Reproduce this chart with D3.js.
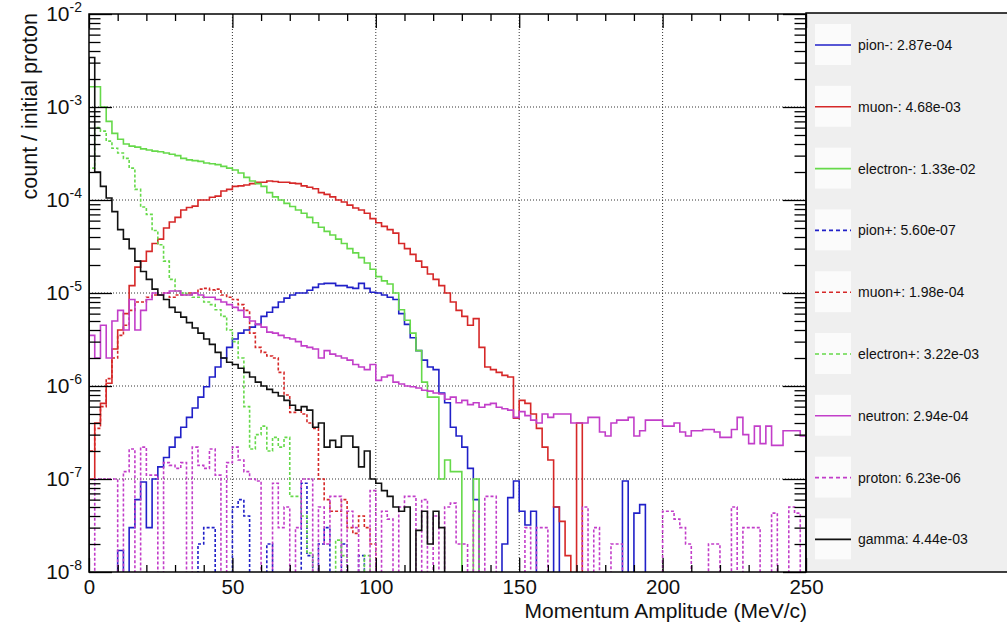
<!DOCTYPE html>
<html><head><meta charset="utf-8">
<script src="https://cdn.jsdelivr.net/npm/d3@7/dist/d3.min.js"></script>
<style>
html,body{margin:0;padding:0;background:#fff;}
svg{display:block;font-family:"Liberation Sans",Arial,Helvetica,sans-serif;}
</style></head><body>
<svg id="chart" width="1007" height="623"></svg>
<script>
// ---------------- data ----------------
const binWidth = 2; // MeV/c per bin, 125 bins from 0 to 250
const xTicks = [0, 50, 100, 150, 200, 250];
const xMinorTicks = [10,20,30,40,60,70,80,90,110,120,130,140,160,170,180,190,210,220,230,240];
const yDecades = [1e-8, 1e-7, 1e-6, 1e-5, 1e-4, 1e-3, 1e-2];
const yMinorMantissas = [2,3,4,5,6,7,8,9];
const legendLabels = ["pion-: 2.87e-04","muon-: 4.68e-03","electron-: 1.33e-02","pion+: 5.60e-07","muon+: 1.98e-04","electron+: 3.22e-03","neutron: 2.94e-04","proton: 6.23e-06","gamma: 4.44e-03"];

const pionMinus = [
0,0,0,0,0,1.7e-8,0,3e-8,6e-8,9.3e-8,
3e-8,1e-7,1.35e-7,1.7e-7,2.2e-7,2.8e-7,3.6e-7,4.6e-7,5.8e-7,7.6e-7,
9.8e-7,1.25e-6,1.6e-6,2.0e-6,2.6e-6,3.2e-6,3.7e-6,4.0e-6,4.3e-6,4.6e-6,
5.6e-6,6.2e-6,7.0e-6,8.0e-6,8.8e-6,9.5e-6,1.0e-5,1.0e-5,1.07e-5,1.15e-5,
1.25e-5,1.27e-5,1.27e-5,1.2e-5,1.2e-5,1.15e-5,1.12e-5,1.27e-5,1.12e-5,1.02e-5,
1.0e-5,9.5e-6,9.0e-6,8.5e-6,6.0e-6,4.6e-6,3.3e-6,2.4e-6,1.9e-6,1.6e-6,
1.5e-6,8.4e-7,6.6e-7,3.6e-7,2.9e-7,2.2e-7,1.3e-7,6e-8,0,0,
0,0,2e-8,6.3e-8,9.5e-8,4.5e-8,3.2e-8,4.5e-8,0,0,
0,5e-8,0,0,0,0,0,0,0,0,
0,0,0,9.5e-8,0,4.3e-8,5.3e-8,0,0,0,
0,0,0,0,0,0,0,0,0,0,
0,0,0,0,0,0,0,0,0,0,
0,0,0,0,0];

const muonMinus = [
1e-7,4e-7,6.5e-7,1.07e-6,2.5e-6,4e-6,6e-6,1.2e-5,1.9e-5,2.2e-5,
2.8e-5,3.4e-5,3.8e-5,5.0e-5,5.8e-5,6.5e-5,7.8e-5,8.3e-5,8.6e-5,1.0e-4,
1.0e-4,1.07e-4,1.1e-4,1.25e-4,1.3e-4,1.4e-4,1.42e-4,1.45e-4,1.5e-4,1.55e-4,
1.55e-4,1.6e-4,1.58e-4,1.55e-4,1.55e-4,1.52e-4,1.5e-4,1.42e-4,1.37e-4,1.32e-4,
1.2e-4,1.15e-4,1.08e-4,1.0e-4,9.5e-5,8.8e-5,8.2e-5,7.8e-5,7.2e-5,6.3e-5,
5.7e-5,5.2e-5,4.8e-5,4.4e-5,3.4e-5,3.0e-5,2.6e-5,2.2e-5,1.9e-5,1.6e-5,
1.4e-5,1.2e-5,1.0e-5,8e-6,6.5e-6,5.6e-6,4.5e-6,5.3e-6,2.6e-6,1.6e-6,
1.5e-6,1.4e-6,1.3e-6,1.25e-6,4.5e-7,7e-7,6.5e-7,5e-7,3.5e-7,2.2e-7,
1.6e-7,5e-8,3.5e-8,1.5e-8,0,4e-7,0,0,0,0,
0,0,0,0,0,0,0,0,0,0,
0,0,0,0,0,0,0,0,0,0,
0,0,0,0,0,0,0,0,0,0,
0,0,0,0,0];

const electronMinus = [
1.65e-3,1.65e-3,1.0e-3,7e-4,5.2e-4,4.5e-4,4.0e-4,3.8e-4,3.7e-4,3.55e-4,
3.45e-4,3.35e-4,3.3e-4,3.2e-4,3.1e-4,3.0e-4,2.8e-4,2.7e-4,2.65e-4,2.6e-4,
2.5e-4,2.45e-4,2.4e-4,2.3e-4,2.2e-4,2.1e-4,1.95e-4,1.75e-4,1.6e-4,1.5e-4,
1.4e-4,1.2e-4,1.08e-4,1.0e-4,9.2e-5,8.5e-5,7.8e-5,7.2e-5,6.5e-5,5.7e-5,
5.1e-5,4.6e-5,4.2e-5,3.8e-5,3.4e-5,3.0e-5,2.7e-5,2.4e-5,2.1e-5,1.8e-5,
1.5e-5,1.35e-5,1.25e-5,1.0e-5,6.6e-6,5.1e-6,3.7e-6,2.4e-6,1.1e-6,7.6e-7,
7.6e-7,1.0e-7,1.6e-7,1.2e-7,1.2e-7,0,0,1.0e-7,0,0,
0,0,0,0,0,0,0,0,0,0,
0,0,0,0,0,0,0,0,0,0,
0,0,0,0,0,0,0,0,0,0,
0,0,0,0,0,0,0,0,0,0,
0,0,0,0,0,0,0,0,0,0,
0,0,0,0,0];

const pionPlus = [
0,0,0,0,0,0,0,0,0,0,
0,0,0,0,0,0,0,0,0,2e-8,
3e-8,3e-8,0,0,0,5e-8,6e-8,4e-8,0,0,
0,2e-8,0,0,0,0,0,9e-8,1.5e-8,0,
2e-8,3e-8,0,0,2e-8,0,0,1.5e-8,0,0,
0,0,0,0,0,0,0,0,0,0,
0,0,0,0,0,0,0,0,0,0,
0,0,0,0,0,0,0,0,0,0,
0,0,0,0,0,0,0,0,0,0,
0,0,0,0,0,0,0,0,0,0,
0,0,0,0,0,0,0,0,0,0,
0,0,0,0,0,0,0,0,0,0,
0,0,0,0,0];

const muonPlus = [
2e-7,3.5e-7,6e-7,1.2e-6,2e-6,3.5e-6,4.5e-6,6.5e-6,8e-6,8e-6,
9e-6,9.5e-6,9.5e-6,1.0e-5,9e-6,9.5e-6,9.5e-6,1.0e-5,1.0e-5,1.1e-5,
1.12e-5,1.08e-5,1.1e-5,9.5e-6,9e-6,8.5e-6,7.5e-6,6.5e-6,3.7e-6,2.6e-6,
2.3e-6,2.1e-6,2.0e-6,1.4e-6,8e-7,5.2e-7,5.5e-7,5e-7,4e-7,3.5e-7,
1.0e-7,6e-8,4.5e-8,4.5e-8,6e-8,3e-8,2.6e-8,4e-8,3e-8,2e-8,
0,0,0,0,0,0,0,0,0,0,
0,0,0,0,0,0,0,0,0,0,
0,0,0,0,0,0,0,0,0,0,
0,0,0,0,0,0,0,0,0,0,
0,0,0,0,0,0,0,0,0,0,
0,0,0,0,0,0,0,0,0,0,
0,0,0,0,0,0,0,0,0,0,
0,0,0,0,0];

const electronPlus = [
2.2e-4,6e-4,5.5e-4,4.3e-4,3.6e-4,3.2e-4,2.8e-4,2.2e-4,1.3e-4,8.4e-5,
7.0e-5,4.7e-5,3.3e-5,2.2e-5,1.4e-5,1.05e-5,1.0e-5,9.5e-6,9e-6,9e-6,
8e-6,7.5e-6,6.6e-6,5.6e-6,4e-6,3e-6,2e-6,6e-7,2.1e-7,3.0e-7,
3.7e-7,2.0e-7,2.8e-7,2.2e-7,2.8e-7,6.5e-8,6.5e-8,4e-8,1.6e-8,0,
0,0,0,2.2e-8,1.5e-8,0,0,0,1.5e-8,0,
0,0,0,0,0,0,0,0,0,0,
0,0,0,0,0,0,0,0,0,0,
0,0,0,0,0,0,0,0,0,0,
0,0,0,0,0,0,0,0,0,0,
0,0,0,0,0,0,0,0,0,0,
0,0,0,0,0,0,0,0,0,0,
0,0,0,0,0,0,0,0,0,0,
0,0,0,0,0];

const neutron = [
3.5e-6,2e-6,4.5e-6,2e-6,5e-6,6.5e-6,4e-6,8.5e-6,4e-6,6.5e-6,
8.5e-6,1.0e-5,9.5e-6,1.0e-5,1.05e-5,1.05e-5,9.5e-6,9.5e-6,1.0e-5,9.5e-6,
9e-6,9e-6,8.5e-6,8e-6,7.5e-6,7e-6,6.5e-6,5.5e-6,5e-6,4.6e-6,
4.3e-6,3.8e-6,3.7e-6,3.5e-6,3.3e-6,3.2e-6,3.0e-6,2.7e-6,2.6e-6,2.5e-6,
2.0e-6,2.4e-6,2.2e-6,2.1e-6,2.0e-6,1.9e-6,1.7e-6,1.6e-6,1.5e-6,1.7e-6,
1.15e-6,1.25e-6,1.3e-6,1.1e-6,1.05e-6,1.0e-6,9.8e-7,9.5e-7,9e-7,8.8e-7,
8.4e-7,8.2e-7,7.2e-7,7.6e-7,6.6e-7,7e-7,6.3e-7,6.6e-7,5.9e-7,6.3e-7,
6.5e-7,5.9e-7,5.7e-7,5.5e-7,4.6e-7,5.3e-7,4.8e-7,4.3e-7,4.0e-7,5.0e-7,
4.6e-7,5.0e-7,5.0e-7,5.0e-7,4.0e-7,4.0e-7,4.0e-7,4.6e-7,4.6e-7,3.2e-7,
2.9e-7,4.0e-7,4.3e-7,4.3e-7,4.6e-7,2.9e-7,3.3e-7,4.3e-7,4.3e-7,4.3e-7,
3.7e-7,3.7e-7,4.0e-7,3.2e-7,2.9e-7,3.3e-7,3.3e-7,3.4e-7,3.4e-7,3.2e-7,
2.8e-7,2.8e-7,3.4e-7,4.6e-7,3.0e-7,2.4e-7,3.7e-7,2.4e-7,3.7e-7,2.3e-7,
2.3e-7,3.3e-7,3.3e-7,3.3e-7,2.9e-7];

const proton = [
0,1e-7,1e-7,1e-7,1e-7,0,1.2e-7,2.1e-7,0,2.2e-7,
1.1e-7,1.1e-7,0,1.5e-7,1.4e-7,1.3e-7,1.5e-7,0,2.2e-7,1.4e-7,
1.3e-7,2.1e-7,1.1e-7,0,1.5e-7,2.2e-7,1.6e-7,1.2e-7,1e-7,9.5e-8,
0,0,9e-8,3e-8,5e-8,0,3e-8,1e-7,1e-7,0,
5e-8,2e-8,6.5e-8,6.5e-8,0,4.5e-8,3e-8,0,0,7.5e-8,
0,4.5e-8,3.7e-8,0,5e-8,6.5e-8,6.5e-8,0,6e-8,0,
4e-8,0,5e-8,5.5e-8,2e-8,2e-8,0,4.5e-8,0,6.5e-8,
6.5e-8,0,0,0,0,0,3e-8,0,3e-8,3e-8,
0,0,0,0,0,0,5e-8,0,3e-8,0,
0,2e-8,2e-8,0,0,0,0,0,0,0,
4.5e-8,4.5e-8,3.7e-8,3e-8,2e-8,0,0,0,2e-8,2e-8,
0,0,5e-8,0,3e-8,3e-8,3e-8,0,0,4.3e-8,
0,0,5e-8,4.3e-8,0];

const gamma = [
3.4e-3,2e-4,1.4e-4,1.05e-4,7.5e-5,4.8e-5,3.8e-5,3e-5,2.2e-5,1.7e-5,
1.4e-5,1.1e-5,9.5e-6,8.5e-6,7e-6,6.2e-6,5.5e-6,4.8e-6,4.2e-6,3.7e-6,
3.2e-6,2.8e-6,2.3e-6,2.0e-6,1.8e-6,1.7e-6,1.55e-6,1.4e-6,1.25e-6,1.1e-6,
1.0e-6,9.2e-7,8.5e-7,7.8e-7,7e-7,6.2e-7,5.5e-7,6e-7,5.5e-7,3.6e-7,
4e-7,2.2e-7,2.6e-7,2.2e-7,2.9e-7,2.9e-7,2.2e-7,1.35e-7,2e-7,1e-7,
9e-8,7.5e-8,6.5e-8,5e-8,4.5e-8,5e-8,0,2.8e-8,4.5e-8,2e-8,
4.5e-8,3e-8,0,0,0,0,0,0,0,0,
0,0,0,0,0,0,0,0,0,0,
0,0,0,0,0,0,0,0,0,0,
0,0,0,0,0,0,0,0,0,0,
0,0,0,0,0,0,0,0,0,0,
0,0,0,0,0,0,0,0,0,0,
0,0,0,0,0];

// ---------------- styling ----------------
const seriesList = [
  {vals: pionMinus,     color: "#2020c8", dash: null},
  {vals: muonMinus,     color: "#d62828", dash: null},
  {vals: electronMinus, color: "#66d94a", dash: null},
  {vals: pionPlus,      color: "#2020c8", dash: "3,2"},
  {vals: muonPlus,      color: "#d62828", dash: "3,2"},
  {vals: electronPlus,  color: "#66d94a", dash: "3,2"},
  {vals: neutron,       color: "#c23ec9", dash: null},
  {vals: proton,        color: "#c23ec9", dash: "3,2"},
  {vals: gamma,         color: "#111111", dash: null}
];

const W = 1007, H = 623, L = 89, R = 806, T = 14, B = 572;
const svg = d3.select("#chart");
svg.append("rect").attr("width", W).attr("height", H).attr("fill", "#fff");

const x = d3.scaleLinear().domain([0, 250]).range([L, R]);
const y = d3.scaleLog().domain([1e-8, 1e-2]).range([B, T]);

const yMinorTicks = [];
yDecades.slice(0, -1).forEach(d => yMinorMantissas.forEach(m => yMinorTicks.push(m * d)));

// grid
const grid = svg.append("g").attr("stroke", "#333").attr("stroke-width", 1).attr("stroke-dasharray", "1,2");
xTicks.slice(1, -1).forEach(t => grid.append("line").attr("x1", x(t)).attr("x2", x(t)).attr("y1", T).attr("y2", B));
yDecades.slice(1, -1).forEach(t => grid.append("line").attr("x1", L).attr("x2", R).attr("y1", y(t)).attr("y2", y(t)));

// clip
svg.append("clipPath").attr("id", "plotclip").append("rect").attr("x", L).attr("y", T).attr("width", R - L).attr("height", B - T);

function yv(v) { return v >= 1e-8 ? y(v) : B + 3; }
function histPath(vals) {
  const p = d3.path();
  p.moveTo(x(0), B + 3);
  vals.forEach((v, i) => {
    const lo = i * binWidth, hi = lo + binWidth;
    p.lineTo(x(lo), yv(v));
    p.lineTo(x(hi), yv(v));
  });
  p.lineTo(x(vals.length * binWidth), B + 3);
  return p.toString();
}

const hg = svg.append("g").attr("clip-path", "url(#plotclip)");
seriesList.forEach(s => {
  hg.append("path").attr("d", histPath(s.vals)).attr("fill", "none")
    .attr("stroke", s.color).attr("stroke-width", 1.6)
    .attr("stroke-dasharray", s.dash).attr("stroke-linejoin", "miter");
});

// legend
const leg = svg.append("g");
leg.append("rect").attr("x", R).attr("y", T - 1).attr("width", W - R + 2).attr("height", B - T + 1)
  .attr("fill", "#efefef").attr("stroke", "#000").attr("stroke-width", 1.5);
legendLabels.forEach((lab, i) => {
  const cy = 45 + i * 61.8;
  const s = seriesList[i];
  leg.append("rect").attr("x", 815).attr("y", cy - 21).attr("width", 36).attr("height", 41).attr("fill", "#fbfbfb");
  leg.append("line").attr("x1", 815).attr("x2", 851).attr("y1", cy).attr("y2", cy)
    .attr("stroke", s.color).attr("stroke-width", 1.6).attr("stroke-dasharray", s.dash ? "4,3" : null);
  leg.append("text").attr("x", 858).attr("y", cy).attr("dy", "0.35em").attr("font-size", 14).attr("fill", "#111").text(lab);
});

// axes
function styleAxis(g) {
  g.select(".domain").remove();
  g.selectAll(".tick line").attr("stroke", "#000").attr("stroke-width", 1.3);
}
const fontFam = '"Liberation Sans",Arial,Helvetica,sans-serif';

const leftMajor = svg.append("g").attr("transform", `translate(${L},0)`)
  .call(d3.axisLeft(y).tickValues(yDecades).tickSize(-23).tickPadding(7).tickFormat(() => "10"))
  .attr("font-size", 21).attr("font-family", fontFam);
styleAxis(leftMajor);
leftMajor.selectAll(".tick text").attr("fill", "#111").each(function(d) {
  const t = d3.select(this);
  t.text(null);
  t.append("tspan").text("10");
  t.append("tspan").attr("dy", -9).attr("font-size", 14).text(String(Math.round(Math.log10(d))));
});
svg.append("g").attr("transform", `translate(${L},0)`)
  .call(d3.axisLeft(y).tickValues(yMinorTicks).tickSize(-11.5).tickFormat(""))
  .call(styleAxis);
svg.append("g").attr("transform", `translate(${R},0)`)
  .call(d3.axisRight(y).tickValues(yDecades).tickSize(-23).tickFormat(""))
  .call(styleAxis);
svg.append("g").attr("transform", `translate(${R},0)`)
  .call(d3.axisRight(y).tickValues(yMinorTicks).tickSize(-11.5).tickFormat(""))
  .call(styleAxis);

const bottomMajor = svg.append("g").attr("transform", `translate(0,${B})`)
  .call(d3.axisBottom(x).tickValues(xTicks).tickSize(-14).tickPadding(7).tickFormat(d3.format("d")))
  .attr("font-size", 20.5).attr("font-family", fontFam);
styleAxis(bottomMajor);
bottomMajor.selectAll(".tick text").attr("fill", "#111");
svg.append("g").attr("transform", `translate(0,${B})`)
  .call(d3.axisBottom(x).tickValues(xMinorTicks).tickSize(-7).tickFormat(""))
  .call(styleAxis);
svg.append("g").attr("transform", `translate(0,${T})`)
  .call(d3.axisTop(x).tickValues(xTicks).tickSize(-14).tickFormat(""))
  .call(styleAxis);
svg.append("g").attr("transform", `translate(0,${T})`)
  .call(d3.axisTop(x).tickValues(xMinorTicks).tickSize(-7).tickFormat(""))
  .call(styleAxis);

// frame
svg.append("rect").attr("x", L).attr("y", T).attr("width", R - L).attr("height", B - T)
  .attr("fill", "none").attr("stroke", "#000").attr("stroke-width", 1.5);

// titles
svg.append("text").attr("transform", `translate(37,13) rotate(-90)`).attr("text-anchor", "end")
  .attr("font-size", 21.5).attr("fill", "#111").text("count / initial proton");
svg.append("text").attr("x", 807).attr("y", 618).attr("text-anchor", "end")
  .attr("font-size", 21).attr("fill", "#111").text("Momentum Amplitude (MeV/c)");
</script>
</body></html>
